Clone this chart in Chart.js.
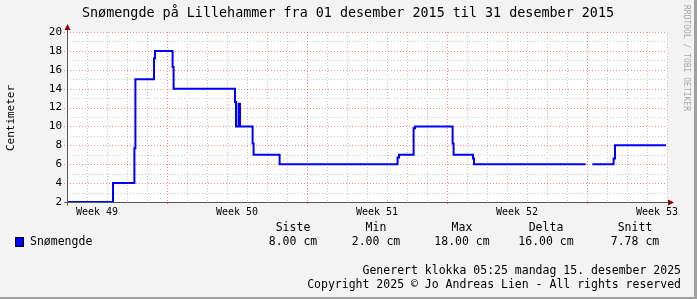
<!DOCTYPE html>
<html>
<head>
<meta charset="utf-8">
<script src="https://cdn.jsdelivr.net/npm/chart.js@4/dist/chart.umd.min.js"></script>
<style>
  html, body { margin: 0; padding: 0; background: #f3f3f3; }
  canvas { display: block; }
</style>
</head>
<body>
<canvas id="snow" width="697" height="299"></canvas>
<script>
// Data (x = days since 01 desember 2015 00:00, value held until next point)
const days = [0, 2.3, 3.37, 3.42, 4.35, 4.4, 5.28, 5.33, 8.4, 8.45, 8.58, 8.65, 9.28, 9.33,
  10.63, 16.53, 16.6, 17.33, 17.4, 19.28, 19.33, 20.3, 20.35, 25.93, 26.0, 26.27, 27.33, 27.4, 29.95];
const snow = [2, 4, 7.7, 15, 17.2, 18, 16.3, 14, 12.6, 10, 12.4, 10, 8.2, 7,
  6, 6.7, 7, 9.8, 10, 8.2, 7, 6.6, 6, 6, null, 6, 6.6, 8, 8];

const yTicks = [2, 4, 6, 8, 10, 12, 14, 16, 18, 20];
const weekLabels = ['Week 49', 'Week 50', 'Week 51', 'Week 52', 'Week 53'];
const weekMid = [1.5, 8.5, 15.5, 22.5, 29.5];
const weekStart = [5, 12, 19, 26];

const statNames = ['Siste', 'Min', 'Max', 'Delta', 'Snitt'];
const statValues = ['8.00 cm', '2.00 cm', '18.00 cm', '16.00 cm', '7.78 cm'];

const MONO = '"DejaVu Sans Mono", monospace';

// --- DRAWING HELPERS ---
function dotted(ctx, x1, y1, x2, y2, color) {
    ctx.save();
    ctx.strokeStyle = color;
    ctx.lineWidth = 1;
    ctx.setLineDash([1, 2]);
    ctx.beginPath();
    ctx.moveTo(x1, y1);
    ctx.lineTo(x2, y2);
    ctx.stroke();
    ctx.restore();
}

const rrdGrid = {
    id: 'rrdGrid',
    beforeDatasetsDraw(chart) {
        const { ctx, chartArea: a, scales: { x, y } } = chart;
        ctx.fillStyle = '#ffffff';
        ctx.fillRect(a.left, a.top, a.right - a.left, a.bottom - a.top);

        // minor grid
        for (let d = 0; d <= 30; d++) {
            if (weekStart.includes(d)) continue;
            const px = Math.round(x.getPixelForValue(d)) + 0.5;
            dotted(ctx, px, a.top, px, a.bottom, '#c8c8c8');
        }
        for (let v = 3; v <= 19; v += 2) {
            const py = Math.round(y.getPixelForValue(v)) + 0.5;
            dotted(ctx, a.left, py, a.right, py, '#c8c8c8');
        }
        // major grid
        weekStart.forEach(d => {
            const px = Math.round(x.getPixelForValue(d)) + 0.5;
            dotted(ctx, px, a.top, px, a.bottom + 3, 'rgba(255,0,0,0.45)');
        });
        yTicks.forEach(v => {
            const py = Math.round(y.getPixelForValue(v)) + 0.5;
            dotted(ctx, a.left - 3, py, a.right, py, 'rgba(255,0,0,0.45)');
        });
    },
    afterDraw(chart) {
        const { ctx, chartArea: a, scales: { x, y } } = chart;
        const W = chart.width, H = chart.height;
        ctx.save();

        // axes
        const x0 = Math.round(a.left) + 0.5;
        const y0 = Math.round(a.bottom) + 0.5;
        ctx.strokeStyle = '#555555';
        ctx.lineWidth = 1;
        ctx.setLineDash([]);
        ctx.beginPath();
        ctx.moveTo(x0, y0 + 3);
        ctx.lineTo(x0, a.top - 4);
        ctx.moveTo(x0 - 3, y0);
        ctx.lineTo(a.right + 3, y0);
        ctx.stroke();

        // arrows
        ctx.fillStyle = '#900000';
        ctx.beginPath();
        ctx.moveTo(x0 - 3, a.top - 2);
        ctx.lineTo(x0 + 3, a.top - 2);
        ctx.lineTo(x0, a.top - 8);
        ctx.closePath();
        ctx.fill();
        ctx.beginPath();
        ctx.moveTo(a.right + 1, y0 - 3);
        ctx.lineTo(a.right + 1, y0 + 3);
        ctx.lineTo(a.right + 7, y0);
        ctx.closePath();
        ctx.fill();

        ctx.fillStyle = '#000000';
        // y tick labels
        ctx.font = '11px ' + MONO;
        ctx.textAlign = 'right';
        ctx.textBaseline = 'middle';
        yTicks.forEach(v => ctx.fillText(String(v), a.left - 5, y.getPixelForValue(v)));

        // x labels
        ctx.font = '10px ' + MONO;
        ctx.textAlign = 'center';
        weekLabels.forEach((t, i) => ctx.fillText(t, x.getPixelForValue(weekMid[i]), 212));

        // title
        ctx.font = '13.4px ' + MONO;
        ctx.fillText('Snømengde på Lillehammer fra 01 desember 2015 til 31 desember 2015', 348, 14);

        // y axis title
        ctx.font = '11px ' + MONO;
        ctx.save();
        ctx.translate(11, 118);
        ctx.rotate(-Math.PI / 2);
        ctx.fillText('Centimeter', 0, 0);
        ctx.restore();

        // watermark
        ctx.save();
        ctx.fillStyle = '#a8a8a8';
        ctx.font = '8px ' + MONO;
        ctx.textAlign = 'left';
        ctx.translate(686, 5);
        ctx.rotate(Math.PI / 2);
        ctx.fillText('RRDTOOL / TOBI OETIKER', 0, 0);
        ctx.restore();

        // legend
        ctx.font = '11.5px ' + MONO;
        const statX = [293, 376, 462, 546, 635];
        statNames.forEach((t, i) => ctx.fillText(t, statX[i], 228));
        statValues.forEach((t, i) => ctx.fillText(t, statX[i], 242));
        ctx.fillStyle = '#0000ff';
        ctx.fillRect(16, 238, 8, 9);
        ctx.strokeStyle = '#000000';
        ctx.strokeRect(15.5, 237.5, 8, 9);
        ctx.fillStyle = '#000000';
        ctx.textAlign = 'left';
        ctx.fillText('Snømengde', 30, 242);

        // footer
        ctx.textAlign = 'right';
        ctx.fillText('Generert klokka 05:25 mandag 15. desember 2025', 681, 271);
        ctx.fillText('Copyright 2025 © Jo Andreas Lien - All rights reserved', 681, 285);

        // border
        ctx.fillStyle = '#a0a0a0';
        ctx.fillRect(W - 3, 0, 3, H);
        ctx.fillRect(0, H - 2, W, 2);
        ctx.restore();
    }
};

new Chart(document.getElementById('snow'), {
    type: 'line',
    data: {
        datasets: [{
            label: 'Snømengde',
            data: days.map((d, i) => ({ x: d, y: snow[i] })),
            borderColor: '#0000ff',
            borderWidth: 2,
            pointRadius: 0,
            stepped: 'before',
            spanGaps: false,
            fill: false,
            clip: false
        }]
    },
    options: {
        responsive: false,
        animation: false,
        devicePixelRatio: 1,
        layout: { padding: { left: 67, right: 30, top: 32, bottom: 97 } },
        plugins: { legend: { display: false }, tooltip: { enabled: false } },
        scales: {
            x: { type: 'linear', min: 0, max: 30, display: false },
            y: { min: 2, max: 20, display: false }
        }
    },
    plugins: [rrdGrid]
});
</script>
</body>
</html>
